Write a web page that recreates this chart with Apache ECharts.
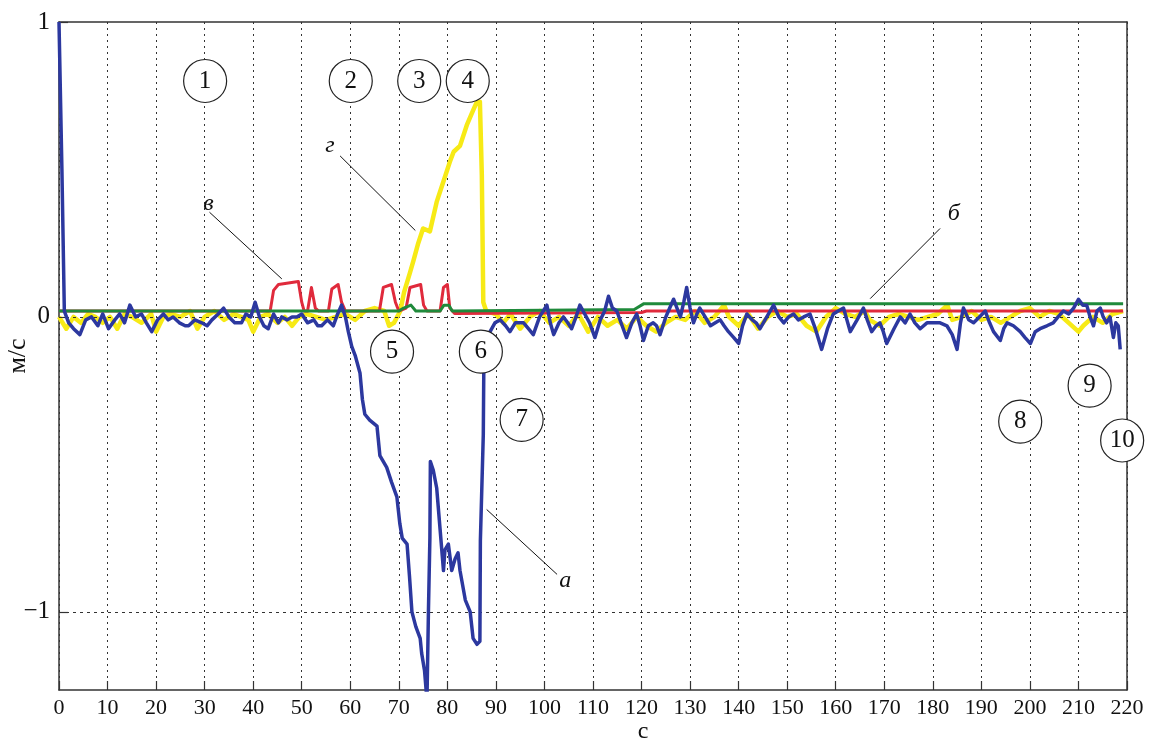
<!DOCTYPE html>
<html>
<head>
<meta charset="utf-8">
<script src="https://cdn.jsdelivr.net/npm/echarts@6.0.0/dist/echarts.min.js"></script>
<style>
  html, body { margin: 0; padding: 0; background: #fff; }
  #chart { width: 1152px; height: 743px; }
</style>
</head>
<body>
<div id="chart"></div>
<script>
/* ---------------- DATA ---------------- */

// x ticks (s) and y tick values (m/s)
const X_MIN = 0, X_MAX = 220, X_STEP = 10;
const Y_MIN = -1.265, Y_MAX = 1;
const Y_TICKS = [-1, 0, 1];

// а — blue
const seriesA = [
  [0, 1.0], [0.4, 1.0], [0.6, 0.5], [1.1, 0.02], [2, -0.02], [3, -0.04], [4.3, -0.06], [5.5, -0.01],
  [6.7, 0.0], [8, -0.03], [9, 0.01], [10.2, -0.04], [11.5, -0.01], [12.5, 0.01], [13.5, -0.02],
  [14.6, 0.04], [15.8, 0.0], [17, 0.01], [18, -0.02], [19.1, -0.05], [20.3, -0.01], [21.5, 0.01],
  [22.5, -0.01], [23.5, 0.0], [24.8, -0.02], [26, -0.03], [26.7, -0.03], [28, -0.01], [29.4, -0.02],
  [30.5, -0.03], [31.5, -0.01], [32.8, 0.01], [33.9, 0.03], [35, 0.0], [36.2, -0.02], [37.6, -0.02],
  [38.5, 0.01], [39.5, 0.0], [40.4, 0.05], [41.3, 0.0], [42.2, -0.03], [43.1, -0.04], [44.2, 0.01],
  [45.2, -0.02], [45.9, 0.0], [47, -0.01], [48, 0.0], [49, 0.0], [50, 0.01], [51.2, -0.02],
  [52.5, -0.01], [53.3, -0.03], [54.1, -0.03], [55.3, -0.01], [56.5, -0.03], [57.4, 0.01],
  [58.2, 0.04], [59, 0.0], [59.6, -0.05], [60.3, -0.1], [61, -0.13], [62, -0.19], [62.5, -0.28],
  [63, -0.33], [64, -0.35], [65.5, -0.37], [66.1, -0.47], [67.5, -0.51], [68.5, -0.56], [69.6, -0.61],
  [70.2, -0.70], [70.7, -0.75], [71.7, -0.77], [72.2, -0.88], [72.7, -1.0], [73.5, -1.05],
  [74.4, -1.09], [74.7, -1.14], [75.3, -1.2], [75.8, -1.3], [76.1, -1.0], [76.4, -0.75],
  [76.5, -0.49], [77.1, -0.52], [77.8, -0.58], [78.5, -0.72], [79.2, -0.86], [79.5, -0.79],
  [80.2, -0.77], [80.9, -0.86], [81.6, -0.82], [82.2, -0.80], [82.6, -0.86], [83.7, -0.96],
  [84.7, -1.0], [85.3, -1.09], [86.1, -1.11], [86.7, -1.10], [86.8, -0.76], [87.4, -0.40],
  [87.5, -0.19], [88.2, -0.09], [88.8, -0.05], [89.8, -0.02], [90.9, -0.01], [92, -0.03],
  [92.9, -0.05], [94, -0.02], [95.7, -0.02], [96.7, -0.04], [97.7, -0.06], [99, 0.0], [100.5, 0.04],
  [101.2, -0.02], [101.9, -0.06], [103, -0.02], [103.9, 0.0], [104.8, -0.02], [105.6, -0.04],
  [106.5, 0.0], [107.3, 0.04], [108.3, 0.01], [109.3, -0.02], [110.4, -0.07], [111.5, -0.01],
  [112.4, 0.02], [113.2, 0.07], [114, 0.03], [114.9, 0.02], [116, -0.03], [116.9, -0.07],
  [118, -0.02], [119, 0.01], [119.7, -0.03], [120.4, -0.08], [121.4, -0.03], [122.4, -0.02],
  [123.1, -0.03], [123.8, -0.06], [125, 0.0], [125.8, 0.03], [126.6, 0.06], [127.3, 0.03],
  [128, 0.0], [128.7, 0.05], [129.3, 0.1], [130, 0.03], [130.7, -0.02], [131.4, 0.01], [132, 0.03],
  [133.1, 0.0], [134.2, -0.03], [135.2, -0.02], [136.2, -0.01], [137, -0.03], [137.9, -0.05],
  [139, -0.07], [140, -0.09], [140.8, -0.03], [141.7, 0.01], [142.8, -0.01], [143.6, -0.02],
  [144.4, -0.04], [145.8, 0.0], [147.2, 0.04], [148.3, 0.0], [149.3, -0.02], [150.3, 0.0],
  [151.3, 0.01], [152.3, -0.01], [153.4, 0.0], [154.7, 0.01], [155.8, -0.04], [157.1, -0.11],
  [158.3, -0.04], [159.5, 0.01], [160.5, 0.02], [161.6, 0.03], [162.3, -0.01], [163, -0.05],
  [164.4, -0.01], [165.7, 0.03], [166.5, -0.01], [167.4, -0.05], [168.3, -0.03], [169.1, -0.02],
  [169.8, -0.05], [170.5, -0.09], [172, -0.04], [173.3, 0.0], [174.3, -0.02], [175.3, 0.01],
  [176.3, -0.02], [177.4, -0.04], [178.8, -0.02], [180.2, -0.02], [181.5, -0.02], [182.9, -0.03],
  [184, -0.06], [185, -0.11], [185.7, -0.02], [186.3, 0.03], [187.4, -0.01], [188.4, -0.02],
  [189.6, 0.0], [190.8, 0.02], [191.7, -0.02], [192.5, -0.05], [193.9, -0.08], [194.6, -0.04],
  [195.3, -0.02], [196.6, -0.03], [198, -0.05], [199, -0.07], [200.1, -0.09], [201.1, -0.05],
  [202.1, -0.04], [203.5, -0.03], [204.8, -0.02], [205.8, 0.0], [206.9, 0.02], [208, 0.01],
  [209, 0.03], [210, 0.06], [210.9, 0.04], [211.7, 0.04], [212.4, 0.0], [213.1, -0.03],
  [213.8, 0.02], [214.5, 0.03], [215.1, 0.0], [215.8, -0.02], [216.5, 0.0], [217.2, -0.07],
  [217.7, -0.02], [218.2, -0.03], [218.6, -0.11]
];

// б — green
const seriesB = [
  [0, 0.02], [70, 0.02], [71, 0.03], [72.5, 0.04], [73.5, 0.02], [78.5, 0.02], [79.3, 0.04],
  [80.3, 0.04], [81, 0.02], [118.5, 0.025], [120.5, 0.045], [219.2, 0.045]
];

// в — red
const seriesV = [
  [0, 0.02], [43.5, 0.02], [44.2, 0.09], [45.2, 0.11], [49.3, 0.12], [50, 0.05], [50.5, 0.02],
  [51.2, 0.02], [52, 0.1], [52.8, 0.03], [53.5, 0.02], [55.5, 0.02], [56.2, 0.095], [57.5, 0.11],
  [58.2, 0.05], [59, 0.02], [66, 0.02], [66.8, 0.1], [68.5, 0.11], [69.3, 0.05], [70, 0.02],
  [71.5, 0.03], [72.3, 0.1], [74.5, 0.11], [75.1, 0.04], [75.8, 0.02], [78.5, 0.02], [79.2, 0.1],
  [80, 0.11], [80.5, 0.03], [81.5, 0.012], [120, 0.015], [121, 0.02], [219.2, 0.02]
];

// г — yellow
const seriesG = [
  [0, 0.0], [1.5, -0.04], [3, 0.0], [4.5, -0.02], [6, 0.01], [7.5, 0.0], [9, -0.02], [10.5, 0.0],
  [12, -0.04], [13.5, 0.01], [15, 0.0], [17, -0.02], [19, 0.01], [20, -0.05], [21.5, 0.0], [23, 0.01],
  [25, 0.0], [27, 0.02], [28.5, -0.04], [30, 0.0], [32, 0.02], [34, -0.01], [36, 0.01], [37.5, 0.0],
  [39, -0.01], [40, -0.05], [41.5, 0.0], [43, 0.01], [45, -0.02], [46.5, 0.0], [48, -0.03],
  [49.5, 0.0], [51, 0.01], [53, 0.0], [55, -0.01], [57, 0.0], [59, 0.01], [61, -0.01], [63, 0.02],
  [65, 0.03], [67, 0.02], [68, -0.03], [69, -0.02], [70.3, 0.02], [71.1, 0.085], [72.3, 0.15],
  [73, 0.19], [74, 0.25], [75, 0.30], [76.4, 0.29], [77.8, 0.39], [79, 0.45], [80.6, 0.53],
  [81.3, 0.56], [82.6, 0.58], [84, 0.65], [85.3, 0.70], [86.1, 0.73], [86.7, 0.73], [87.1, 0.48],
  [87.4, 0.05], [88, 0.02], [90, 0.01], [91.5, -0.02], [93, 0.01], [95, -0.04], [97, 0.0],
  [99, 0.02], [101, -0.02], [103, 0.0], [105, -0.03], [107, 0.01], [109, -0.05], [111, 0.0],
  [113, -0.03], [115, -0.01], [117, -0.04], [119, 0.0], [121, -0.03], [123, -0.05], [125, -0.02],
  [127, 0.0], [129, -0.01], [131, 0.02], [133, -0.02], [135, 0.0], [137, 0.04], [138, 0.0],
  [140, -0.03], [142, 0.01], [144, -0.04], [146, 0.0], [148, 0.02], [150, 0.0], [152, 0.01],
  [154, -0.03], [156, -0.05], [158, 0.0], [160, 0.03], [162, 0.01], [164, 0.0], [166, 0.02],
  [167, -0.01], [169, -0.03], [171, 0.0], [173, 0.01], [175, 0.0], [177, -0.01], [179, 0.0],
  [181, 0.01], [183, 0.04], [184, -0.01], [186, 0.0], [188, 0.02], [190, -0.01], [192, 0.0],
  [194, -0.02], [196, 0.0], [198, 0.02], [200, 0.03], [202, 0.0], [204, 0.02], [206, 0.01],
  [208, -0.02], [210, -0.05], [211, -0.03], [213, 0.0], [215, -0.02], [217, 0.01], [219.2, 0.02]
];

// circled stage numbers: [x, y, text]
const circleMarks = [
  [30.1, 0.80, "1"], [60.1, 0.80, "2"], [74.2, 0.80, "3"], [84.2, 0.80, "4"],
  [68.6, -0.118, "5"], [86.9, -0.118, "6"], [95.3, -0.349, "7"],
  [198.0, -0.355, "8"], [212.3, -0.233, "9"], [219.0, -0.419, "10"]
];

// curve letters: [x, y, text]
const letterMarks = [
  [104.3, -0.895, "а"], [184.3, 0.349, "б"], [30.8, 0.383, "в"], [55.8, 0.58, "г"]
];

// leader lines: [[x1, y1], [x2, y2]]
const leaderLines = [
  [[88.1, -0.653], [102.6, -0.873]],
  [[181.5, 0.30], [167.1, 0.062]],
  [[31.0, 0.355], [45.9, 0.129]],
  [[57.9, 0.546], [73.4, 0.293]]
];

const COLORS = {
  a: "#2c389f",
  b: "#1f8a3b",
  v: "#e02a3c",
  g: "#f7ea16",
};

const SERIF = "Liberation Serif";

/* ---------------- CHART ---------------- */

const chart = echarts.init(document.getElementById("chart"));

const fmtY = (v) => (v < 0 ? "\u2212" + Math.abs(v) : String(v));

const lineSeries = (name, data, color, width, z) => ({
  name,
  type: "line",
  data,
  showSymbol: false,
  symbol: "none",
  z,
  lineStyle: { color, width, join: "round" },
  emphasis: { disabled: true },
});

const frameAxis = { show: true, onZero: false, lineStyle: { color: "#333", width: 1.5 } };

const markLabel = (fontSize, italic) => ({
  show: true,
  position: "inside",
  formatter: (p) => p.data[2],
  fontFamily: SERIF,
  fontStyle: italic ? "italic" : "normal",
  fontSize,
  color: "#111",
  textBorderWidth: 0,
});

const option = {
  animation: false,
  backgroundColor: "#fff",
  grid: { left: 59, right: 25, top: 22, bottom: 53, outerBoundsMode: "none", containLabel: false },
  xAxis: [
    {
      type: "value",
      min: X_MIN,
      max: X_MAX,
      interval: X_STEP,
      name: "с",
      nameLocation: "middle",
      nameGap: 30,
      nameMoveOverlap: false,
      nameTextStyle: {
        fontFamily: SERIF, fontSize: 24, color: "#111", padding: [0, 0, 0, 100],
      },
      axisLine: frameAxis,
      axisTick: { inside: true, length: 9, lineStyle: { color: "#333", width: 1.2 } },
      axisLabel: { fontFamily: SERIF, fontSize: 22, color: "#111", margin: 7 },
      splitLine: {
        show: true,
        lineStyle: { color: "#333", width: 1, type: [2, 4] },
      },
    },
    {
      type: "value",
      position: "top",
      min: X_MIN,
      max: X_MAX,
      axisLine: frameAxis,
      axisTick: { show: false },
      axisLabel: { show: false },
      splitLine: { show: false },
    },
  ],
  yAxis: [
    {
      type: "value",
      min: Y_MIN,
      max: Y_MAX,
      name: "м/с",
      nameLocation: "middle",
      nameGap: 28,
      nameMoveOverlap: false,
      nameTextStyle: { fontFamily: SERIF, fontSize: 26, color: "#111" },
      axisLine: frameAxis,
      axisTick: {
        show: true, inside: true, length: 9, customValues: Y_TICKS,
        lineStyle: { color: "#333", width: 1.2 },
      },
      axisLabel: {
        fontFamily: SERIF, fontSize: 25, color: "#111", margin: 9,
        customValues: Y_TICKS, formatter: fmtY,
      },
      splitLine: { show: false },
    },
    {
      type: "value",
      position: "right",
      min: Y_MIN,
      max: Y_MAX,
      axisLine: frameAxis,
      axisTick: { show: false },
      axisLabel: { show: false },
      splitLine: { show: false },
    },
  ],
  series: [
    {
      type: "line",
      data: [],
      z: 1,
      silent: true,
      markLine: {
        silent: true,
        symbol: "none",
        label: { show: false },
        lineStyle: { color: "#333", width: 1, type: [3, 4] },
        data: Y_TICKS.filter((v) => v < Y_MAX).map((v) => ({ yAxis: v })),
      },
    },
    lineSeries("г", seriesG, COLORS.g, 4.5, 2),
    lineSeries("в", seriesV, COLORS.v, 3, 3),
    lineSeries("б", seriesB, COLORS.b, 3, 4),
    lineSeries("а", seriesA, COLORS.a, 3.5, 5),
    {
      type: "line",
      data: [],
      z: 6,
      silent: true,
      markLine: {
        silent: true,
        symbol: "none",
        label: { show: false },
        lineStyle: { color: "#111", width: 1, type: "solid" },
        data: leaderLines.map(([p, q]) => [{ coord: p }, { coord: q }]),
      },
    },
    {
      type: "scatter",
      data: letterMarks,
      z: 7,
      silent: true,
      symbolSize: 1,
      itemStyle: { color: "rgba(0,0,0,0)", opacity: 1 },
      label: markLabel(24, true),
    },
    {
      type: "scatter",
      data: circleMarks,
      z: 8,
      clip: false,
      silent: true,
      symbol: "circle",
      symbolSize: 43,
      itemStyle: { color: "#fff", borderColor: "#222", borderWidth: 1.2, opacity: 1 },
      label: markLabel(25, false),
    },
  ],
};

chart.setOption(option);
</script>
</body>
</html>
